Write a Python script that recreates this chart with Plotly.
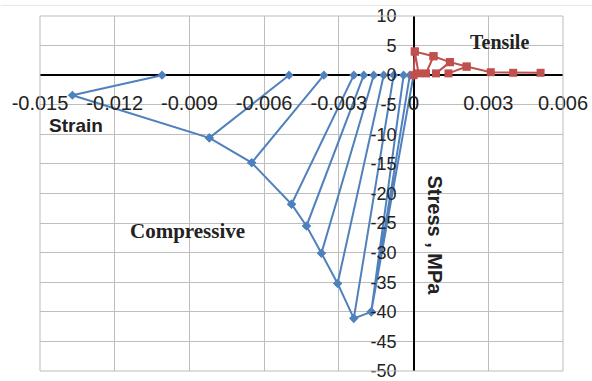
import plotly.graph_objects as go

# Compressive cyclic path: load to envelope point, unload to residual strain, reload
comp_strain = [0, -0.0017, -0.00015, -0.0017, -0.0004, -0.0017, -0.0024, -0.0008, -0.0024,
               -0.00305, -0.0012, -0.00305, -0.0037, -0.0016, -0.0037, -0.0043, -0.0020,
               -0.0043, -0.0049, -0.0024, -0.0049, -0.0065, -0.0036, -0.0065, -0.0082,
               -0.0050, -0.0082, -0.0137, -0.0101]
comp_stress = [0, -40.0, 0, -40.0, 0, -40.0, -41.1, 0, -41.1,
               -35.2, 0, -35.2, -30.1, 0, -30.1, -25.5, 0,
               -25.5, -21.8, 0, -21.8, -14.8, 0, -14.8, -10.6,
               0, -10.6, -3.4, 0]

# Tensile cyclic path
ten_strain = [0, 0.00005, 0.0002, 0.00005, 0.0008, 0.0005, 0.0008, 0.00146, 0.0009,
              0.00146, 0.00213, 0.0014, 0.00213, 0.0031, 0.0040, 0.0051]
ten_stress = [0, 4.0, 0.3, 4.0, 3.2, 0.3, 3.2, 2.2, 0.3,
              2.2, 1.45, 0.3, 1.45, 0.5, 0.4, 0.4]

x_ticks = [-0.015, -0.012, -0.009, -0.006, -0.003, 0, 0.003, 0.006]
x_labels = ["-0.015", "-0.012", "-0.009", "-0.006", "-0.003", "0", "0.003", "0.006"]
y_ticks = [10, 5, 0, -5, -10, -15, -20, -25, -30, -35, -40, -45, -50]
y_labels = [str(v) for v in y_ticks]

X_RANGE = [-0.015, 0.006]
Y_RANGE = [-50, 10]

fig = go.Figure()
fig.add_trace(go.Scatter(
    x=comp_strain, y=comp_stress, mode="lines+markers",
    line=dict(color="#4F81BD", width=2),
    marker=dict(symbol="diamond", size=7, color="#4F81BD"),
    showlegend=False,
))
fig.add_trace(go.Scatter(
    x=ten_strain, y=ten_stress, mode="lines+markers",
    line=dict(color="#C0504D", width=2),
    marker=dict(symbol="square", size=8, color="#C0504D"),
    showlegend=False,
))

x_font = dict(family="Liberation Sans, Arial, sans-serif", size=20, color="#222222")
y_font = dict(family="Liberation Sans, Arial, sans-serif", size=18, color="#222222")
grid = "#BDBDBD"

fig.update_layout(
    width=592, height=381,
    margin=dict(l=40, r=29, t=16, b=10),
    paper_bgcolor="white", plot_bgcolor="white",
    xaxis=dict(
        range=X_RANGE, tickvals=x_ticks, ticktext=x_labels,
        showgrid=True, gridcolor=grid, gridwidth=1,
        zeroline=True, zerolinecolor="black", zerolinewidth=1.5,
        showline=False, ticks="", automargin=False,
        anchor="free", position=(0 - Y_RANGE[0]) / (Y_RANGE[1] - Y_RANGE[0]),
        tickfont=x_font, ticklabelstandoff=14, ticklabeloverflow="allow",
    ),
    yaxis=dict(
        range=Y_RANGE, tickvals=y_ticks, ticktext=y_labels,
        showgrid=True, gridcolor=grid, gridwidth=1,
        zeroline=True, zerolinecolor="black", zerolinewidth=1.5,
        showline=False, ticks="", automargin=False,
        anchor="free", position=(0 - X_RANGE[0]) / (X_RANGE[1] - X_RANGE[0]),
        tickfont=y_font, ticklabelstandoff=17, ticklabeloverflow="allow",
    ),
    shapes=[
        dict(type="rect", xref="paper", yref="paper", x0=0, y0=0, x1=1, y1=1,
             line=dict(color=grid, width=1)),
        dict(type="line", xref="paper", yref="paper", x0=-0.075, x1=1.055, y0=1.03, y1=1.03,
             line=dict(color="#E6E6E6", width=1)),
    ],
    annotations=[
        dict(x=-0.01355, y=-8.55, text="<b>Strain</b>", showarrow=False,
             font=dict(family="Liberation Sans, Arial, sans-serif", size=19, color="#222222")),
        dict(x=0.00345, y=5.6, text="<b>Tensile</b>", showarrow=False,
             font=dict(family="Liberation Serif, Times New Roman, serif", size=20, color="#222222")),
        dict(x=-0.00908, y=-26.4, text="<b>Compressive</b>", showarrow=False,
             font=dict(family="Liberation Serif, Times New Roman, serif", size=21, color="#222222")),
        dict(x=0.00086, y=-27.1, text="<b>Stress , MPa</b>", showarrow=False, textangle=90,
             font=dict(family="Liberation Sans, Arial, sans-serif", size=20, color="#222222")),
    ],
)

fig.write_html("out.html")
